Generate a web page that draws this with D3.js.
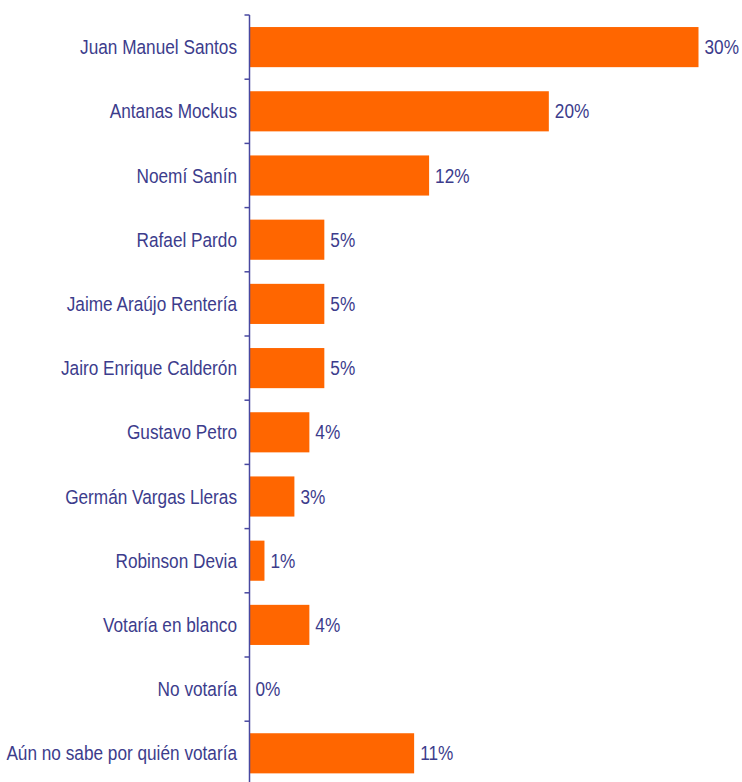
<!DOCTYPE html>
<html><head><meta charset="utf-8">
<script src="https://cdn.jsdelivr.net/npm/d3@7"></script>
<style>html,body{margin:0;padding:0;background:#fff;}svg{display:block;}</style>
</head><body>
<script>
const categories = ["Juan Manuel Santos","Antanas Mockus","Noemí Sanín","Rafael Pardo","Jaime Araújo Rentería","Jairo Enrique Calderón","Gustavo Petro","Germán Vargas Lleras","Robinson Devia","Votaría en blanco","No votaría","Aún no sabe por quién votaría"];
const values = [30,20,12,5,5,5,4,3,1,4,0,11];
const valueLabels = ["30%","20%","12%","5%","5%","5%","4%","3%","1%","4%","0%","11%"];

const W = 742, H = 782;
const svg = d3.select("body").append("svg").attr("width", W).attr("height", H);
const x0 = 249.5;
const x = d3.scaleLinear().domain([0, 30]).range([x0, x0 + 449]);
const y = d3.scaleBand().domain(categories).range([15, 15 + 12 * 64.2]).paddingInner(0.375).paddingOuter(0.1875);

const textColor = "#3c3c8c";
const axisColor = "#4848a0";
const font = "'Liberation Sans', Arial, sans-serif";
const fs = 20.5;
const sx = 0.84;

// bars
svg.selectAll("rect.bar").data(categories).enter().append("rect")
  .attr("class","bar")
  .attr("x", x(0))
  .attr("y", d => y(d))
  .attr("width", (d,i) => x(values[i]) - x(0))
  .attr("height", y.bandwidth())
  .attr("fill", "#ff6600");

// axis line
const step = y.step();
svg.append("line").attr("x1", x0).attr("x2", x0).attr("y1", 15).attr("y2", H)
  .attr("stroke", axisColor).attr("stroke-width", 1.5);
// ticks at band boundaries
const bounds = d3.range(categories.length + 1).map(i => 15 + i * step);
svg.selectAll("line.tick").data(bounds).enter().append("line")
  .attr("x1", x0 - 5).attr("x2", x0).attr("y1", d => d).attr("y2", d => d)
  .attr("stroke", axisColor).attr("stroke-width", 1.5);

// category labels
svg.selectAll("text.cat").data(categories).enter().append("text")
  .attr("transform", d => `translate(237,${y(d) + y.bandwidth()/2}) scale(${sx},1)`)
  .attr("dy", "0.35em").attr("text-anchor", "end")
  .attr("font-family", font).attr("font-size", fs).attr("fill", textColor)
  .text(d => d);

// value labels
svg.selectAll("text.val").data(categories).enter().append("text")
  .attr("transform", (d,i) => `translate(${x(values[i]) + 6},${y(d) + y.bandwidth()/2}) scale(${sx},1)`)
  .attr("dy", "0.35em").attr("text-anchor", "start")
  .attr("font-family", font).attr("font-size", fs).attr("fill", textColor)
  .text((d,i) => valueLabels[i]);
</script>
</body></html>
